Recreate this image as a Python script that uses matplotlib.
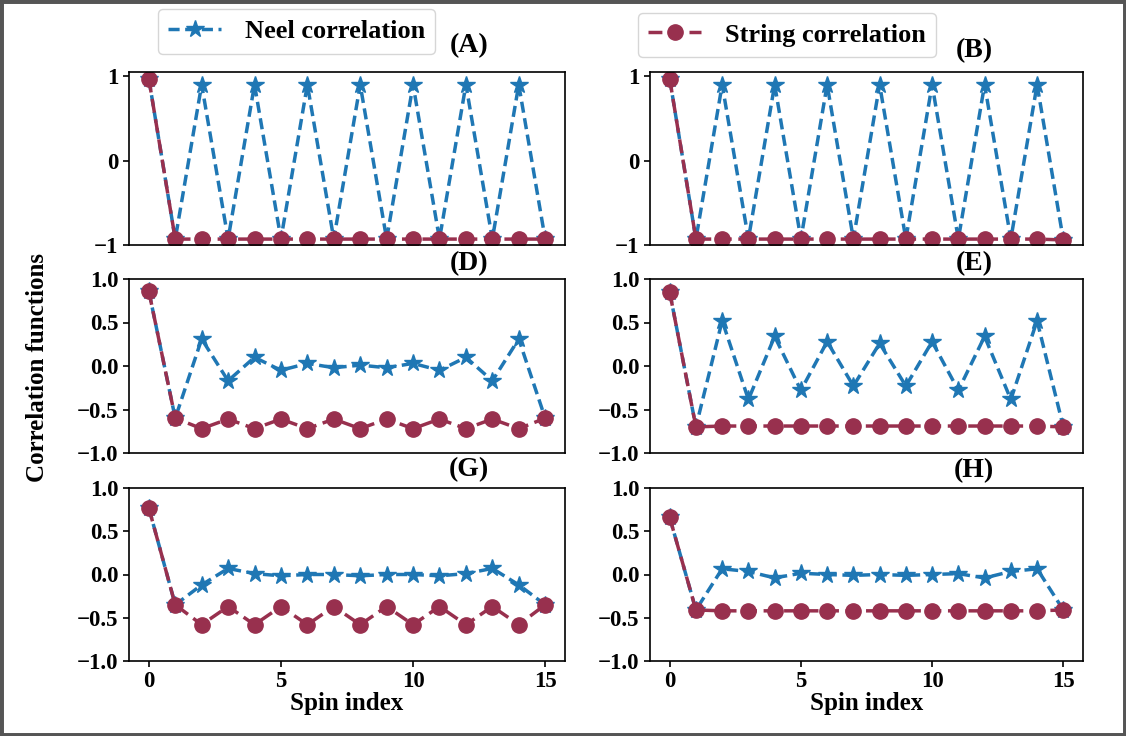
import matplotlib
matplotlib.use("Agg")
import matplotlib.pyplot as plt
from matplotlib.patches import Rectangle
import numpy as np

plt.rcParams['font.family'] = ['Liberation Serif', 'DejaVu Serif']
plt.rcParams['font.weight'] = 'bold'
plt.rcParams['axes.labelweight'] = 'bold'

spin_index = list(range(16))

neel_A = [0.97, -0.93, 0.90, -0.93, 0.90, -0.93, 0.90, -0.93, 0.90, -0.93, 0.90, -0.93, 0.90, -0.93, 0.90, -0.93]
string_A = [0.97, -0.93, -0.93, -0.93, -0.93, -0.93, -0.93, -0.93, -0.93, -0.93, -0.93, -0.93, -0.93, -0.93, -0.93, -0.93]

neel_B = [0.97, -0.93, 0.90, -0.93, 0.90, -0.93, 0.90, -0.93, 0.90, -0.93, 0.90, -0.93, 0.90, -0.93, 0.90, -0.94]
string_B = [0.97, -0.93, -0.93, -0.93, -0.93, -0.93, -0.93, -0.93, -0.93, -0.93, -0.93, -0.93, -0.93, -0.93, -0.93, -0.94]

neel_D = [0.86, -0.60, 0.31, -0.17, 0.10, -0.05, 0.03, -0.02, 0.01, -0.02, 0.03, -0.05, 0.10, -0.17, 0.31, -0.60]
string_D = [0.86, -0.60, -0.72, -0.61, -0.72, -0.61, -0.72, -0.61, -0.72, -0.61, -0.72, -0.61, -0.72, -0.61, -0.72, -0.60]

neel_E = [0.85, -0.70, 0.52, -0.385, 0.34, -0.28, 0.28, -0.23, 0.26, -0.23, 0.28, -0.28, 0.34, -0.385, 0.52, -0.70]
string_E = [0.85, -0.70, -0.69, -0.69, -0.69, -0.69, -0.69, -0.69, -0.69, -0.69, -0.69, -0.69, -0.69, -0.69, -0.69, -0.70]

neel_G = [0.77, -0.35, -0.12, 0.07, 0.01, -0.015, 0.0, 0.0, -0.015, 0.0, 0.0, -0.015, 0.01, 0.07, -0.12, -0.35]
string_G = [0.77, -0.35, -0.58, -0.37, -0.58, -0.37, -0.58, -0.37, -0.58, -0.37, -0.58, -0.37, -0.58, -0.37, -0.58, -0.35]

neel_H = [0.66, -0.41, 0.066, 0.035, -0.04, 0.015, 0.0, -0.01, 0.0, -0.01, 0.0, 0.01, -0.04, 0.035, 0.066, -0.41]
string_H = [0.66, -0.41, -0.42, -0.42, -0.42, -0.42, -0.42, -0.42, -0.42, -0.42, -0.42, -0.42, -0.42, -0.42, -0.42, -0.41]

panel_titles = ['(A)', '(B)', '(D)', '(E)', '(G)', '(H)']
neel_series = [neel_A, neel_B, neel_D, neel_E, neel_G, neel_H]
string_series = [string_A, string_B, string_D, string_E, string_G, string_H]

NEEL_COLOR = '#1f77b4'
STRING_COLOR = '#98304e'

W, H = 1126, 736
fig = plt.figure(figsize=(W / 100, H / 100), dpi=100)

col_x = [(129, 565), (650, 1083)]
row_y = [(72, 245), (279, 453), (488, 661)]
title_dy = [[26, 21], [15, 15], [18, 17]]
title_x = [0.78, 0.748]

axes = []
handles = {}
for r in range(3):
    for c in range(2):
        x0, x1 = col_x[c]
        y0, y1 = row_y[r]
        ax = fig.add_axes([x0 / W, 1 - y1 / H, (x1 - x0) / W, (y1 - y0) / H])
        i = r * 2 + c
        ln1, = ax.plot(spin_index, neel_series[i], linestyle='--', marker='*', color=NEEL_COLOR,
                       lw=2.5, ms=13, dashes=(3.2, 1.6))
        ln2, = ax.plot(spin_index, string_series[i], linestyle='--', marker='o', color=STRING_COLOR,
                       lw=2.5, ms=11, dashes=(4.0, 1.9))
        handles['neel'] = ln1
        handles['string'] = ln2
        if r == 0:
            ax.set_ylim(-1, 1.05)
            ax.set_yticks([-1, 0, 1])
        else:
            ax.set_ylim(-1, 1)
            ax.set_yticks([-1.0, -0.5, 0.0, 0.5, 1.0])
        ax.set_xlim(-0.75, 15.75)
        ax.tick_params(axis='both', labelsize=16.5, width=1.2, length=4)
        for lab in ax.get_yticklabels() + ax.get_xticklabels():
            lab.set_fontweight('bold')
        if r < 2:
            ax.set_xticks([])
        else:
            ax.set_xticks([0, 5, 10, 15])
            ax.set_xlabel('Spin index', fontsize=18, fontweight='bold', labelpad=0)
        for sp in ax.spines.values():
            sp.set_linewidth(1.2)
        h = (y1 - y0)
        ax.text(title_x[c], 1 + title_dy[r][c] / h, panel_titles[i], transform=ax.transAxes,
                ha='center', va='center', fontsize=20, fontweight='bold')
        axes.append(ax)

fig.text(38 / W, 1 - 368 / H, 'Correlation functions', rotation=90, ha='center', va='center',
         fontsize=18, fontweight='bold')

fig.legend([handles['neel']], ['Neel correlation'], loc='center',
           bbox_to_anchor=(296.5 / W, 1 - 31.5 / H), prop={'size': 19, 'weight': 'bold'},
           handlelength=2.0, handletextpad=0.9)
fig.legend([handles['string']], ['String correlation'], loc='center',
           bbox_to_anchor=(787 / W, 1 - 35 / H), prop={'size': 19, 'weight': 'bold'},
           handlelength=2.0, handletextpad=0.9)

fig.patches.append(Rectangle((0, 0), 1, 1, transform=fig.transFigure, fill=False,
                             edgecolor='#555555', linewidth=5, zorder=10))

fig.savefig('out.png', dpi=100)
